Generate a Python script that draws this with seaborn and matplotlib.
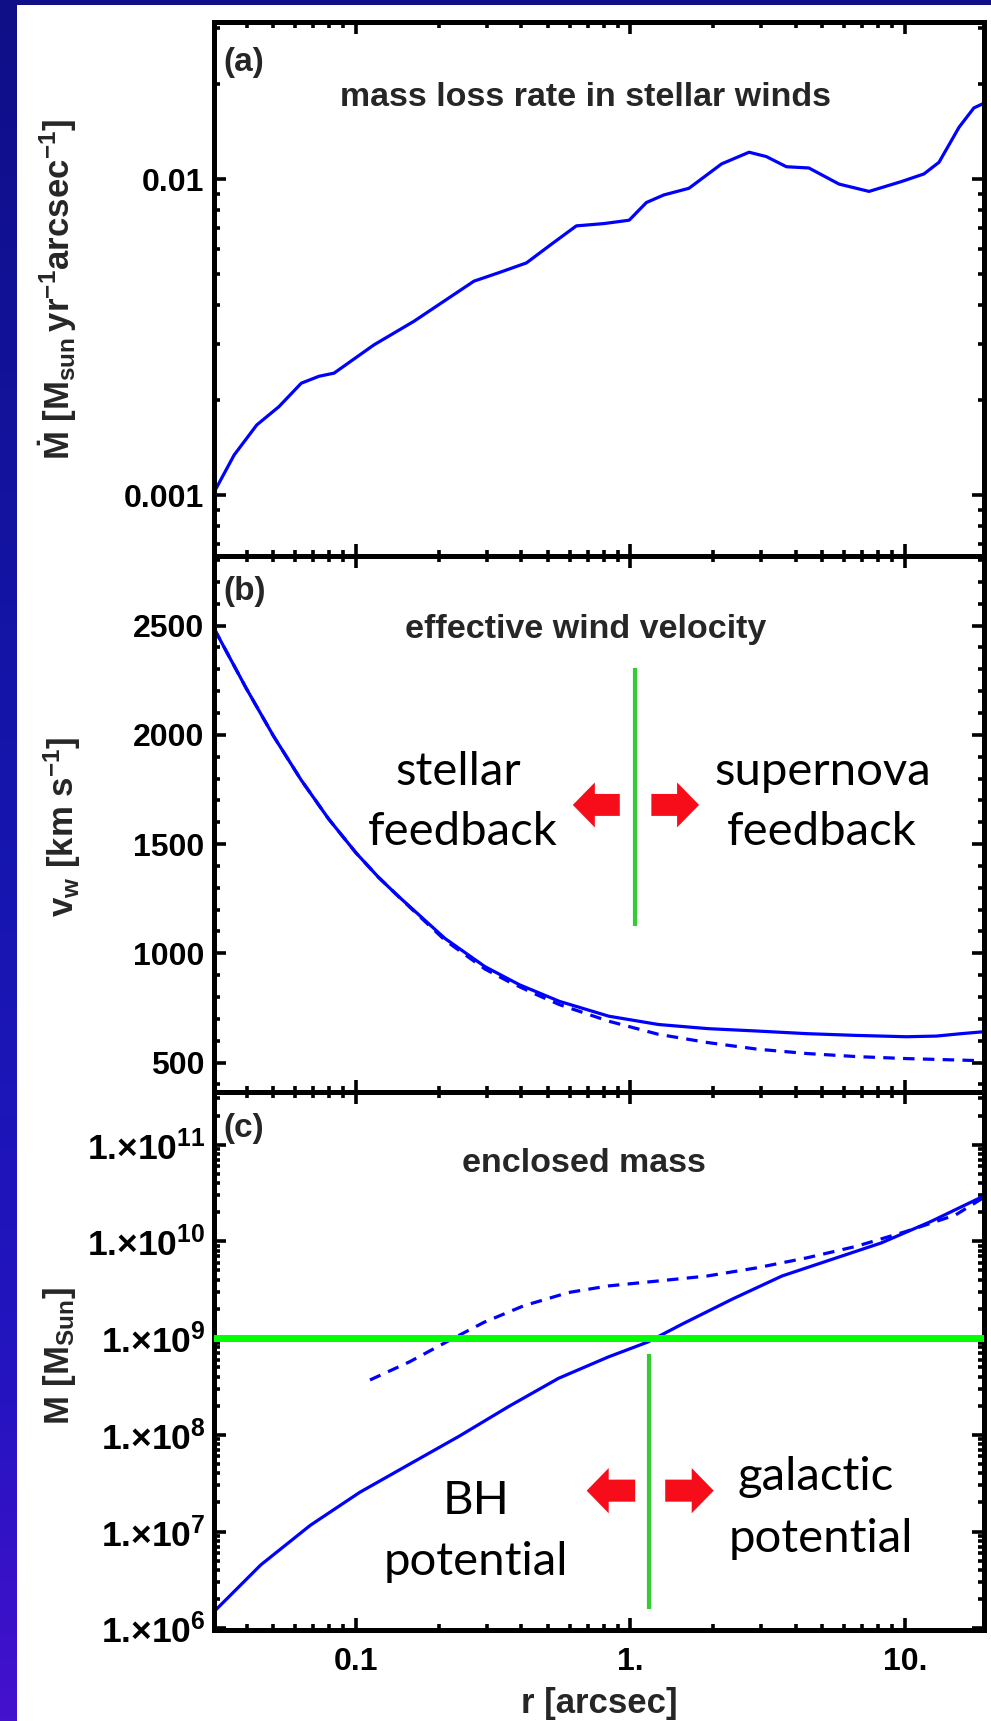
import numpy as np
import matplotlib
matplotlib.use("Agg")
import matplotlib.pyplot as plt
import seaborn as sns
from matplotlib.ticker import FixedLocator, FixedFormatter, LogLocator, MultipleLocator, NullFormatter
from matplotlib.patches import Polygon, Rectangle
from matplotlib.colors import LinearSegmentedColormap

# ---------------- data ----------------
# (a) mass loss rate in stellar winds  [Msun / yr / arcsec]
r_mdot = [0.0305, 0.0360, 0.0435, 0.0524, 0.0632, 0.0733, 0.0832, 0.1164, 0.1626,
          0.2094, 0.269, 0.332, 0.418, 0.515, 0.635, 0.80, 0.989, 1.143, 1.324,
          1.633, 2.148, 2.704, 3.126, 3.698, 4.467, 5.754, 7.396, 9.705, 11.72,
          13.30, 15.74, 17.82, 19.4]
mdot = [0.001026, 0.00134, 0.001667, 0.001905, 0.00226, 0.002377, 0.002432, 0.00299,
        0.003548, 0.00411, 0.004753, 0.005058, 0.00543, 0.00622, 0.00711, 0.00723,
        0.00741, 0.00843, 0.00891, 0.00935, 0.01117, 0.01216, 0.01178, 0.01094,
        0.01084, 0.00964, 0.00914, 0.00982, 0.01038, 0.0113, 0.01459, 0.01679, 0.01738]

# (b) effective wind velocity [km/s]
r_vw = [0.0305, 0.0398, 0.0501, 0.0631, 0.0794, 0.100, 0.1208, 0.1413, 0.158, 0.211,
        0.295, 0.394, 0.551, 0.834, 1.265, 1.919, 2.904, 4.406, 6.683, 10.12, 13.0,
        16.0, 19.4]
vw_total = [2484, 2214, 1994, 1794, 1616, 1460, 1348, 1266, 1211, 1068,
            939, 856, 780, 712, 674, 655, 644, 632, 624, 618, 621, 632, 641]
r_vw_sn = [0.0305, 0.0398, 0.0501, 0.0631, 0.0794, 0.100, 0.1208, 0.1413, 0.158, 0.211,
           0.295, 0.363, 0.447, 0.551, 0.834, 1.265, 1.919, 2.904, 4.406, 6.683,
           10.12, 19.4]
vw_sn = [2484, 2214, 1994, 1794, 1616, 1460, 1348, 1266, 1208, 1060,
         928, 868, 815, 765, 689, 629, 591, 561, 541, 527, 518, 508]

# (c) enclosed mass [Msun]
r_mass = [0.0305, 0.0450, 0.0682, 0.1033, 0.1567, 0.2377, 0.3606, 0.547, 0.830,
          1.156, 1.549, 2.350, 3.565, 5.395, 8.185, 12.42, 19.4]
mass_total = [1.50e6, 4.52e6, 1.161e7, 2.547e7, 4.97e7, 9.68e7, 1.968e8, 3.84e8,
              6.38e8, 9.10e8, 1.403e9, 2.53e9, 4.385e9, 6.49e9, 9.62e9, 1.603e10, 2.95e10]
r_mass_stars = [0.1125, 0.1567, 0.2188, 0.2931, 0.4083, 0.5943, 0.830, 1.256, 1.905,
                2.891, 4.385, 6.653, 10.09, 15.28, 19.4]
mass_stars = [3.69e8, 5.68e8, 9.46e8, 1.459e9, 2.158e9, 2.958e9, 3.46e9, 3.89e9,
              4.385e9, 5.33e9, 6.75e9, 8.89e9, 1.265e10, 1.875e10, 2.85e10]

# boundaries
r_feedback = 1.04
vw_marker_range = (1125, 2306)
m_bh = 1e9
r_potential = 1.17
mass_marker_range = (1.58e6, 6.9e8)

x_ticks = [0.1, 1, 10]
x_ticklabels = ["0.1", "1.", "10."]
mdot_ticks = [0.001, 0.01]
mdot_ticklabels = ["0.001", "0.01"]
vw_ticks = [500, 1000, 1500, 2000, 2500]
vw_ticklabels = ["500", "1000", "1500", "2000", "2500"]
mass_exponents = [6, 7, 8, 9, 10, 11]
mass_ticks = [10.0 ** k for k in mass_exponents]
mass_ticklabels = [r"1.$\times$10$^{%d}$" % k for k in mass_exponents]

# ---------------- style ----------------
sns.set_style("ticks")
plt.rcParams.update({
    "font.family": ["Liberation Sans", "DejaVu Sans"],
    "font.weight": "bold",
    "mathtext.fontset": "custom",
    "mathtext.rm": "Liberation Sans:bold",
    "mathtext.it": "Liberation Sans:italic:bold",
    "mathtext.bf": "Liberation Sans:bold",
    "mathtext.default": "rm",
    "axes.linewidth": 3.6,
    "axes.edgecolor": "black",
    "axes.facecolor": "white",
    "figure.facecolor": "white",
})

BLUE = "#0000ff"
RED = "#f70d1a"
GREEN_V = "#33cc33"
GREEN_H = "#00ff00"
TICK_FS = 23
LABEL_FS = 25
TITLE_FS = 24.5
NOTE_FONT = ["Lato", "DejaVu Sans"]
NOTE_FS = 34

W, H = 991, 1721
fig = plt.figure(figsize=(W / 100, H / 100), dpi=100)

# slide frame: vertical gradient strip on the left and a dark band on top
frame_ax = fig.add_axes([0, 0, 17 / W, 1])
frame_cmap = LinearSegmentedColormap.from_list(
    "frame", [(0, "#0f0f88"), (0.5, "#1616b0"), (0.8, "#2414c0"), (1, "#4411cc")])
frame_ax.imshow(np.linspace(0, 1, 256)[:, None], aspect="auto", cmap=frame_cmap)
frame_ax.set_axis_off()
fig.add_artist(Rectangle((0, 1 - 5 / H), 1, 5 / H, transform=fig.transFigure,
                         facecolor="#0f0f88", edgecolor="none"))


def add_panel(top_px, bottom_px):
    return fig.add_axes([214 / W, 1 - bottom_px / H, 770 / W, (bottom_px - top_px) / H])


ax_a = add_panel(22, 556.4)
ax_b = add_panel(556.4, 1092)
ax_c = add_panel(1092, 1630)
axes = [ax_a, ax_b, ax_c]

for ax in axes:
    ax.set_xscale("log")
ax_a.set_yscale("log")
ax_c.set_yscale("log")

# ---------------- curves ----------------
sns.lineplot(x=r_mdot, y=mdot, ax=ax_a, color=BLUE, lw=2.3, estimator=None, sort=False)

sns.lineplot(x=r_vw, y=vw_total, ax=ax_b, color=BLUE, lw=2.3, estimator=None, sort=False)
sns.lineplot(x=r_vw_sn, y=vw_sn, ax=ax_b, color=BLUE, lw=2.3, estimator=None, sort=False)
ax_b.lines[-1].set_dashes((3.6, 2.6))

sns.lineplot(x=r_mass, y=mass_total, ax=ax_c, color=BLUE, lw=2.3, estimator=None, sort=False)
sns.lineplot(x=r_mass_stars, y=mass_stars, ax=ax_c, color=BLUE, lw=2.3, estimator=None, sort=False)
ax_c.lines[-1].set_dashes((3.6, 2.6))

# boundary markers
ax_b.vlines(r_feedback, *vw_marker_range, color=GREEN_V, lw=3.0, zorder=3)
ax_c.axhline(m_bh, color=GREEN_H, lw=5.0, zorder=3)
ax_c.vlines(r_potential, *mass_marker_range, color=GREEN_V, lw=3.0, zorder=3)


def draw_arrow(ax, x_tail, x_tip, yc, head_len=0.0286, head_half=0.042, shaft_half=0.0205):
    d = np.sign(x_tip - x_tail)
    xb = x_tip - d * head_len
    pts = [(x_tail, yc - shaft_half), (xb, yc - shaft_half), (xb, yc - head_half),
           (x_tip, yc), (xb, yc + head_half), (xb, yc + shaft_half), (x_tail, yc + shaft_half)]
    ax.add_patch(Polygon(pts, closed=True, transform=ax.transAxes,
                         facecolor=RED, edgecolor="none", zorder=4))


draw_arrow(ax_b, 0.527, 0.466, 0.536)
draw_arrow(ax_b, 0.568, 0.630, 0.536)
draw_arrow(ax_c, 0.547, 0.484, 0.259)
draw_arrow(ax_c, 0.586, 0.649, 0.259)


def note(ax, x, y, s):
    ax.text(x, y, s, transform=ax.transAxes, ha="center", va="baseline",
            family=NOTE_FONT, fontweight="normal", fontsize=NOTE_FS, color="black", zorder=5)


note(ax_b, 0.317, 0.574, "stellar")
note(ax_b, 0.323, 0.461, "feedback")
note(ax_b, 0.790, 0.574, "supernova")
note(ax_b, 0.790, 0.461, "feedback")
note(ax_c, 0.340, 0.216, "BH")
note(ax_c, 0.340, 0.102, "potential")
note(ax_c, 0.781, 0.260, "galactic")
note(ax_c, 0.788, 0.145, "potential")

# ---------------- axes ----------------
for ax in axes:
    ax.set_xlim(0.0304, 19.4)
    ax.xaxis.set_major_locator(FixedLocator(x_ticks))
    ax.xaxis.set_minor_locator(LogLocator(base=10, subs=np.arange(2, 10)))
    ax.xaxis.set_minor_formatter(NullFormatter())
    ax.tick_params(which="both", direction="in", top=True, right=True,
                   labelsize=TICK_FS, colors="black")
    ax.tick_params(which="major", length=8.5, width=2.6)
    ax.tick_params(which="minor", length=4.5, width=2.6)
    ax.tick_params(axis="y", pad=7)
    ax.set_xlabel("")
    ax.set_ylabel("")
    for sp in ax.spines.values():
        sp.set_visible(True)
        sp.set_linewidth(3.6)

ax_a.tick_params(labelbottom=False)
ax_b.tick_params(labelbottom=False)
ax_c.xaxis.set_major_formatter(FixedFormatter(x_ticklabels))
ax_c.tick_params(axis="x", pad=12)

ax_a.set_ylim(6.4e-4, 0.0314)
ax_a.yaxis.set_major_locator(FixedLocator(mdot_ticks))
ax_a.yaxis.set_major_formatter(FixedFormatter(mdot_ticklabels))
ax_a.yaxis.set_minor_locator(LogLocator(base=10, subs=np.arange(2, 10)))
ax_a.yaxis.set_minor_formatter(NullFormatter())

ax_b.set_ylim(365, 2817)
ax_b.yaxis.set_major_locator(FixedLocator(vw_ticks))
ax_b.yaxis.set_major_formatter(FixedFormatter(vw_ticklabels))
ax_b.yaxis.set_minor_locator(MultipleLocator(100))

ax_c.set_ylim(9.6e5, 3.5e11)
ax_c.yaxis.set_major_locator(FixedLocator(mass_ticks))
ax_c.yaxis.set_major_formatter(FixedFormatter(mass_ticklabels))
ax_c.yaxis.set_minor_locator(LogLocator(base=10, subs=np.arange(2, 10), numticks=20))
ax_c.yaxis.set_minor_formatter(NullFormatter())
ax_c.tick_params(axis="y", which="major", labelsize=25.5, pad=6)

# panel tags and titles
ax_a.text(0.012, 0.925, "(a)", transform=ax_a.transAxes, ha="left", va="center", fontsize=24)
ax_b.text(0.012, 0.934, "(b)", transform=ax_b.transAxes, ha="left", va="center", fontsize=24)
ax_c.text(0.012, 0.933, "(c)", transform=ax_c.transAxes, ha="left", va="center", fontsize=24)

ax_a.text(0.482, 0.843, "mass loss rate in stellar winds", transform=ax_a.transAxes,
          ha="center", va="baseline", fontsize=TITLE_FS)
ax_b.text(0.482, 0.848, "effective wind velocity", transform=ax_b.transAxes,
          ha="center", va="baseline", fontsize=TITLE_FS)
ax_c.text(0.481, 0.852, "enclosed mass", transform=ax_c.transAxes,
          ha="center", va="baseline", fontsize=TITLE_FS)

# axis labels
ax_a.text(-0.203, 0.50, r"$\dot{\rm M}$ [M$_{\rm sun}\,$yr$^{-1}$arcsec$^{-1}$]",
          transform=ax_a.transAxes, rotation=90, ha="center", va="center", fontsize=LABEL_FS)
ax_b.text(-0.197, 0.495, r"v$_{\rm w}$ [km s$^{-1}$]",
          transform=ax_b.transAxes, rotation=90, ha="center", va="center", fontsize=LABEL_FS)
ax_c.text(-0.200, 0.509, r"M [M$_{\rm Sun}$]",
          transform=ax_c.transAxes, rotation=90, ha="center", va="center", fontsize=LABEL_FS)
ax_c.text(0.5, -0.136, "r [arcsec]", transform=ax_c.transAxes,
          ha="center", va="center", fontsize=LABEL_FS)

fig.savefig("out.png", dpi=100)
